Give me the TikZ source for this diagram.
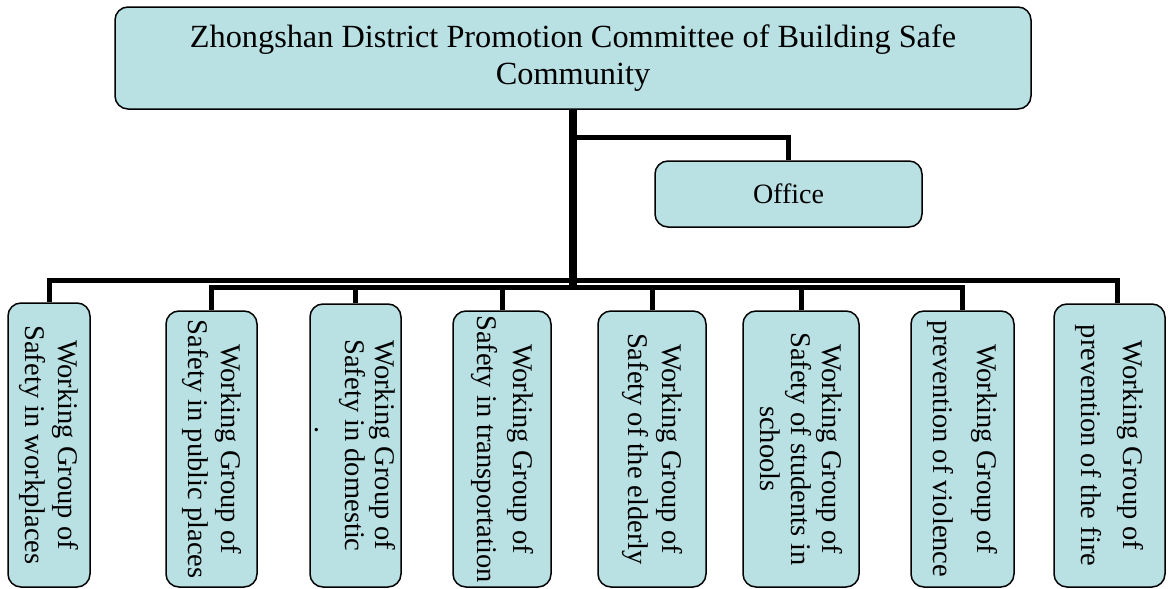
\documentclass[tikz,border=0pt]{standalone}
\usepackage{fontspec}
\setmainfont{Liberation Serif}
\definecolor{boxfill}{RGB}{185,224,227}
\tikzset{
    unitbox/.style={draw=black, line width=1.5pt, fill=boxfill, rounded corners=13pt,
        align=center, inner sep=0pt},
    link/.style={line width=5pt},
    trunk/.style={line width=8pt}
}
\begin{document}
\begin{tikzpicture}[x=1pt,y=1pt]
        \useasboundingbox (0,0) rectangle (1168,-589);
        \coordinate (branch) at (573,-137);
        \coordinate (busA) at (573,-280.5);
        \coordinate (busB) at (573,-287.5);
        \node[unitbox, minimum width=916pt, minimum height=102pt,
            font=\fontsize{32.3}{37}\selectfont] (top) at (573,-58)
            {Zhongshan District Promotion Committee of Building Safe\\Community};
        \node[unitbox, minimum width=267pt, minimum height=66pt,
            font=\fontsize{28}{32}\selectfont] (office) at (788.5,-194) {Office};
        \foreach \n/\x/\t/\w/\s/\txt in {
            g1/49/303/82/33/{Working Group of\\Safety in workplaces},
            g2/211.5/311/91/33/{Working Group of\\Safety in public places},
            g3/355.5/304/91/30/{Working Group of\\Safety in domestic\\.\hspace*{1.1em}},
            g4/502/311/98/36/{Working Group of\\Safety in transportation},
            g5/652/311/108/34/{Working Group of\\Safety of the elderly},
            g6/801/311/116/31/{Working Group of\\Safety of students in\\schools},
            g7/962.5/311/103/44/{Working Group of\\prevention of violence},
            g8/1109.5/304/111/42/{Working Group of\\prevention of the fire}}
            \node[unitbox, rotate=-90, minimum width={(587-\t)*1pt}, minimum height=\w pt,
                font=\fontsize{28.5}{\s}\selectfont] (\n) at (\x,{-(\t+587)/2}) {\txt};
        \draw[trunk] (top.south) -- (top.south |- busB);
        \draw[link] (branch) -| (office.north);
        \draw[link] (g1.west) -- (g1.west |- busA) -| ([xshift=8pt]g8.west);
        \draw[link] (g2.west) -- (g2.west |- busB) -| (g7.west);
        \foreach \n in {g3,g4,g5,g6}
            \draw[link] (\n.west) -- (\n.west |- busB);
    \end{tikzpicture}
\end{document}
